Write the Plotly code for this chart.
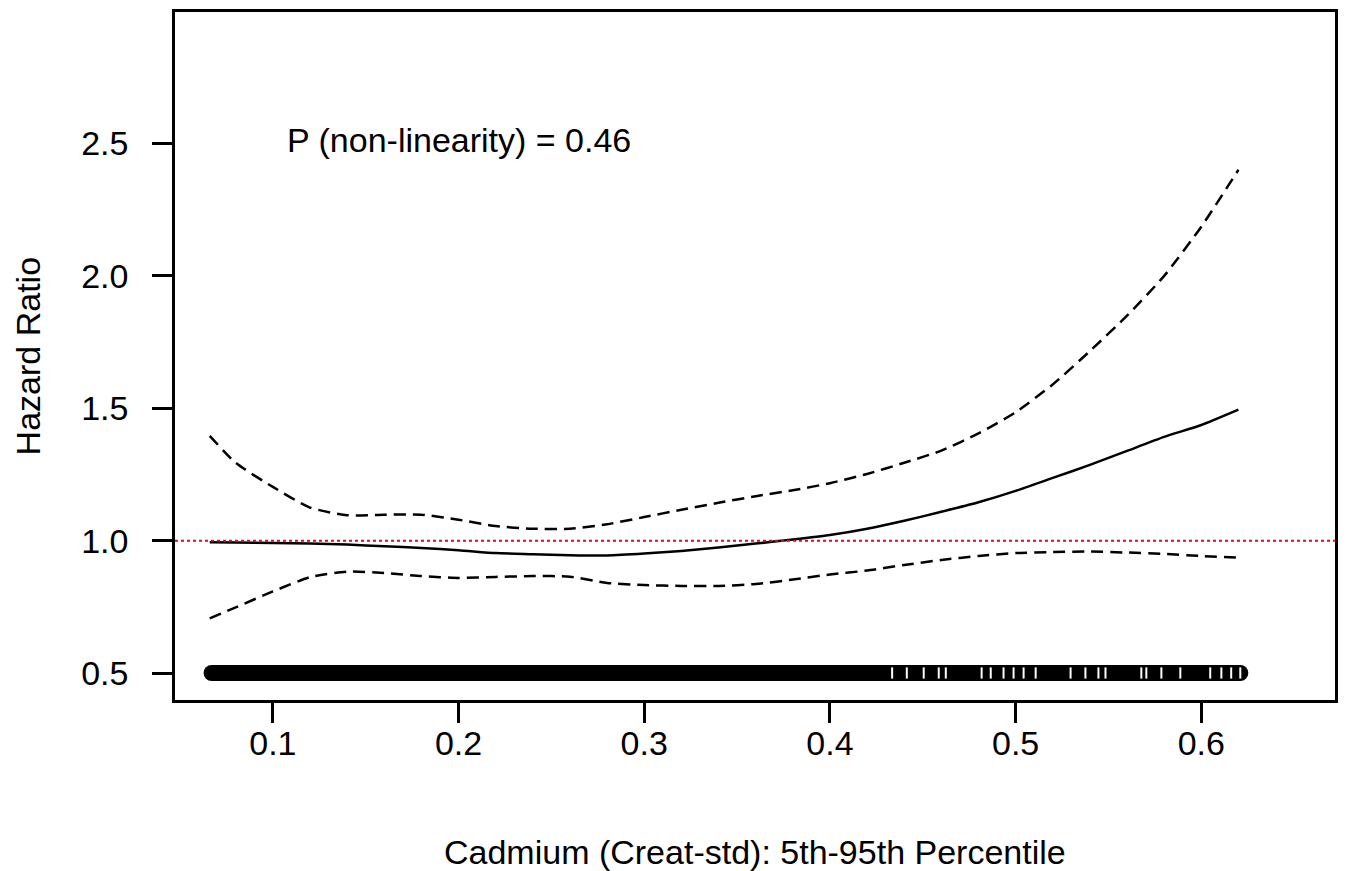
import plotly.graph_objects as go

# ---- data ----
cadmium = [0.066, 0.08, 0.10, 0.12, 0.14, 0.16, 0.18, 0.20, 0.22, 0.24,
           0.26, 0.28, 0.30, 0.32, 0.34, 0.36, 0.38, 0.40, 0.42, 0.44,
           0.46, 0.48, 0.50, 0.52, 0.54, 0.56, 0.58, 0.60, 0.62]
hr = [0.994, 0.993, 0.991, 0.989, 0.985, 0.979, 0.972, 0.964, 0.953, 0.949,
      0.945, 0.944, 0.951, 0.961, 0.974, 0.989, 1.004, 1.021, 1.045, 1.075,
      1.109, 1.145, 1.188, 1.237, 1.286, 1.339, 1.392, 1.437, 1.495]
hr_upper = [1.396, 1.294, 1.203, 1.125, 1.096, 1.098, 1.098, 1.079, 1.055, 1.045,
            1.045, 1.062, 1.089, 1.117, 1.143, 1.168, 1.190, 1.217, 1.252, 1.294,
            1.340, 1.405, 1.485, 1.590, 1.716, 1.850, 2.000, 2.186, 2.401]
hr_lower = [0.706, 0.748, 0.808, 0.862, 0.883, 0.878, 0.866, 0.859, 0.863, 0.866,
            0.864, 0.840, 0.832, 0.829, 0.829, 0.836, 0.853, 0.872, 0.887, 0.908,
            0.927, 0.942, 0.953, 0.957, 0.959, 0.955, 0.950, 0.942, 0.936]

ref_hr = 1.0
rug_level = 0.5
rug_range = [0.067, 0.621]          # span of the (dense) rug of observations
rug_isolated = [0.4335, 0.4414, 0.4505, 0.4586, 0.4624, 0.4817, 0.4866,
                0.4935, 0.4989, 0.5043, 0.5108, 0.5296, 0.5376, 0.5446,
                0.5484, 0.5677, 0.5704, 0.5785, 0.5887, 0.6048, 0.6108,
                0.6161, 0.6210]

x_ticks = [0.1, 0.2, 0.3, 0.4, 0.5, 0.6]
x_tick_labels = ["0.1", "0.2", "0.3", "0.4", "0.5", "0.6"]
y_ticks = [0.5, 1.0, 1.5, 2.0, 2.5]
y_tick_labels = ["0.5", "1.0", "1.5", "2.0", "2.5"]

x_title = "Cadmium (Creat-std): 5th-95th Percentile"
y_title = "Hazard Ratio"
p_text = "P (non-linearity) = 0.46"
p_pos = [0.2, 2.512]

FONT = "Liberation Sans, Arial, sans-serif"
FS = 34

fig = go.Figure()

# rug band
fig.add_trace(go.Scatter(x=rug_range, y=[rug_level] * len(rug_range), mode="lines+markers",
                         line=dict(color="black", width=16),
                         marker=dict(symbol="circle", size=16, color="black"),
                         hoverinfo="skip", showlegend=False))
fig.add_trace(go.Scatter(x=rug_isolated, y=[rug_level] * len(rug_isolated), mode="markers",
                         marker=dict(symbol="line-ns", size=8,
                                     line=dict(color="white", width=2)),
                         hoverinfo="skip", showlegend=False))

# confidence bounds
fig.add_trace(go.Scatter(x=cadmium, y=hr_upper, mode="lines", line_shape="spline",
                         line=dict(color="black", width=2.5, dash="12px,7px", smoothing=0.6),
                         showlegend=False))
fig.add_trace(go.Scatter(x=cadmium, y=hr_lower, mode="lines", line_shape="spline",
                         line=dict(color="black", width=2.5, dash="12px,7px", smoothing=0.6),
                         showlegend=False))
# estimate
fig.add_trace(go.Scatter(x=cadmium, y=hr, mode="lines", line_shape="spline",
                         line=dict(color="black", width=2.5, smoothing=0.6),
                         showlegend=False))

# reference line
fig.add_shape(type="line", xref="paper", x0=0, x1=1, yref="y", y0=ref_hr, y1=ref_hr,
              line=dict(color="#ff0000", width=2, dash="dot"), layer="above")

axis_common = dict(showline=True, mirror=True, linecolor="black", linewidth=2.5,
                   ticks="outside", ticklen=20, tickwidth=2.5, tickcolor="black",
                   showgrid=False, zeroline=False,
                   tickfont=dict(family=FONT, size=FS, color="black"))

fig.update_layout(
    width=1347, height=871,
    margin=dict(l=175, r=9, t=10, b=171),
    paper_bgcolor="white", plot_bgcolor="white",
    font=dict(family=FONT, size=FS, color="black"),
    xaxis=dict(range=[0.0473, 0.672], tickvals=x_ticks, ticktext=x_tick_labels,
               ticklabelstandoff=-9, **axis_common),
    yaxis=dict(range=[0.398, 2.997], tickvals=y_ticks, ticktext=y_tick_labels,
               ticklabelstandoff=17, **axis_common),
    annotations=[
        dict(text=p_text, x=p_pos[0], y=p_pos[1], xref="x", yref="y",
             showarrow=False, xanchor="center", yanchor="middle",
             font=dict(family=FONT, size=FS, color="black")),
        dict(text=x_title, x=0.5, y=-0.2203, xref="paper", yref="paper",
             showarrow=False, xanchor="center", yanchor="middle",
             font=dict(family=FONT, size=FS, color="black")),
        dict(text=y_title, x=-0.1264, y=0.5, xref="paper", yref="paper",
             showarrow=False, xanchor="center", yanchor="middle", textangle=-90,
             font=dict(family=FONT, size=FS, color="black")),
    ],
)

fig.write_html("out.html", config={"displayModeBar": False},
               post_script="document.body.style.margin='0';")
